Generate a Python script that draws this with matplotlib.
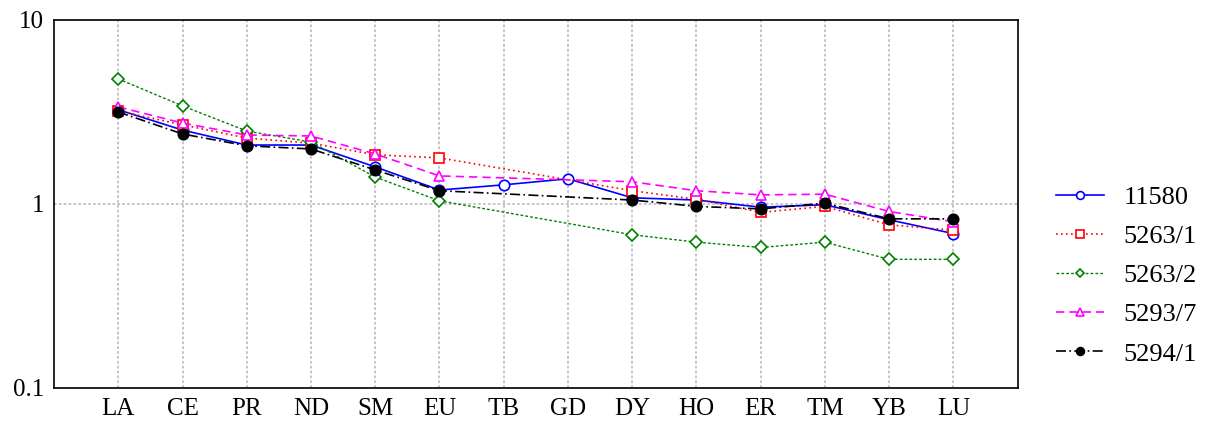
import matplotlib
matplotlib.use("Agg")
import matplotlib.pyplot as plt
import numpy as np

plt.rcParams["font.family"] = ["Liberation Serif", "DejaVu Serif"]

# 元素
elements = ["LA", "CE", "PR", "ND", "SM", "EU", "TB", "GD", "DY", "HO", "ER", "TM", "YB", "LU"]

# 各样品的标准化值 (None = 未测)
s11580 = [3.25, 2.52, 2.09, 2.09, 1.59, 1.19, 1.27, 1.37, 1.08, 1.05, 0.96, 0.99, 0.82, 0.69]
s5263_1 = [3.2, 2.69, 2.28, 2.14, 1.85, 1.78, None, None, 1.18, 1.06, 0.90, 0.97, 0.77, 0.72]
s5263_2 = [4.78, 3.41, 2.49, 2.17, 1.40, 1.04, None, None, 0.68, 0.62, 0.58, 0.62, 0.50, 0.50]
s5293_7 = [3.37, 2.75, 2.37, 2.34, 1.87, 1.42, None, None, 1.32, 1.18, 1.12, 1.13, 0.91, 0.80]
s5294_1 = [3.16, 2.40, 2.07, 1.99, 1.53, 1.18, None, None, 1.05, 0.97, 0.94, 1.01, 0.83, 0.83]

series = [
    ("11580", s11580, dict(color="blue", linestyle="-", marker="o", mfc="white", lw=1.2)),
    ("5263/1", s5263_1, dict(color="red", linestyle=(0, (1, 2)), marker="s", mfc="white", lw=1.2)),
    ("5263/2", s5263_2, dict(color="green", linestyle=(0, (2, 1.5)), marker="D", mfc="white", lw=1.0, ms=6)),
    ("5293/7", s5293_7, dict(color="magenta", linestyle=(0, (5, 3)), marker="^", mfc="white", lw=1.2)),
    ("5294/1", s5294_1, dict(color="black", linestyle=(0, (6, 2, 1, 2)), marker="o", mfc="black", lw=1.2)),
]

fig = plt.figure(figsize=(12.12, 4.24), dpi=100)
ax = fig.add_axes([0.0446, 0.085, 0.795, 0.868])

x_all = np.arange(len(elements))
for name, vals, style in series:
    xs = [x for x, v in zip(x_all, vals) if v is not None]
    ys = [v for v in vals if v is not None]
    style = dict(style)
    ms = style.pop("ms", 7.5)
    ax.plot(xs, ys, label=name, markersize=ms, markeredgewidth=1.2, **style)

ax.set_yscale("log")
ax.set_ylim(0.1, 10)
ax.set_xlim(-1, len(elements))
ax.set_xticks(x_all)
ax.set_xticklabels(elements)
ax.set_yticks([0.1, 1, 10])
ax.set_yticklabels(["0.1", "1", "10"])
ax.minorticks_off()
ax.tick_params(labelsize=18, length=0, pad=7)
ax.grid(True, color="#c0c0c0", linestyle=(0, (1.5, 1.2)), linewidth=1.3)
for sp in ax.spines.values():
    sp.set_linewidth(1.2)

ax.legend(loc="center left", bbox_to_anchor=(1.029, 0.305), borderaxespad=0,
          frameon=False, fontsize=19, handlelength=1.8, handletextpad=0.76,
          labelspacing=0.59, markerscale=0.75)

plt.savefig("out.png", dpi=100)
plt.close()
